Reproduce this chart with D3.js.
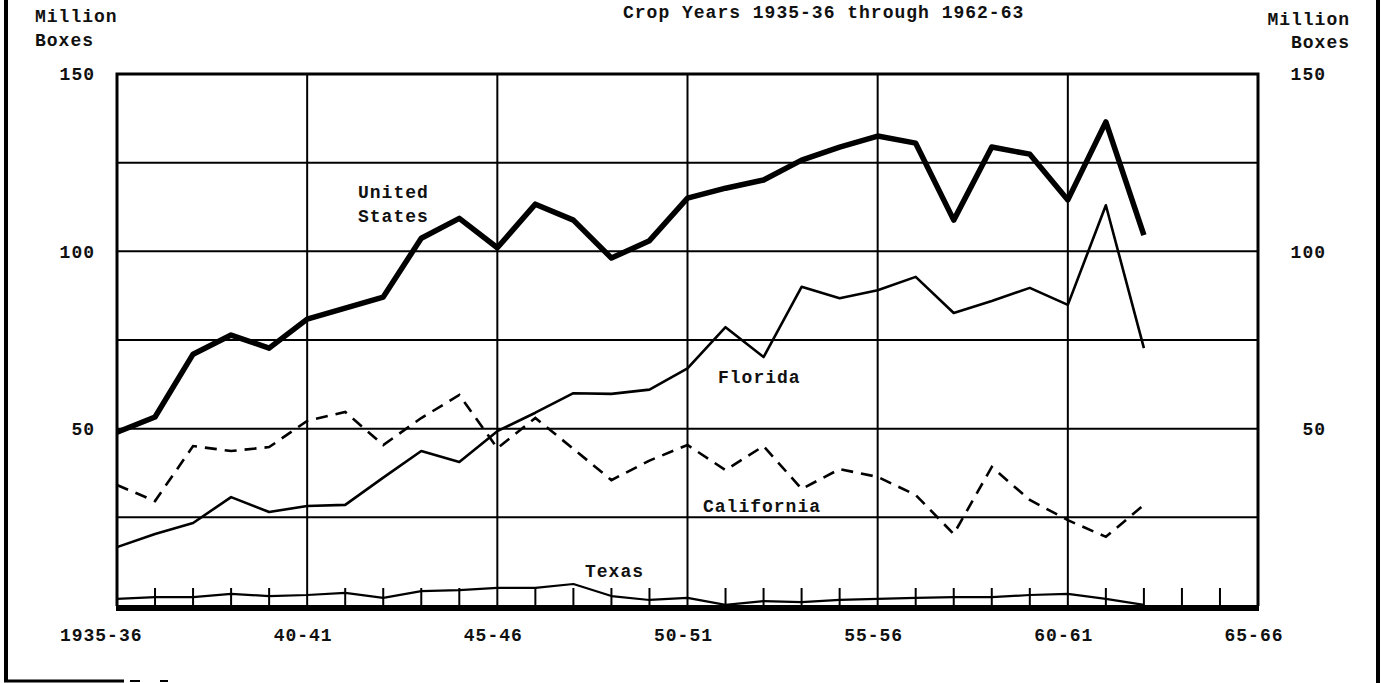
<!DOCTYPE html>
<html>
<head>
<meta charset="utf-8">
<script src="https://cdn.jsdelivr.net/npm/d3@7"></script>
<style>
  body { margin: 0; background: #fff; }
  text { font-family: "Liberation Mono", "Courier New", monospace; font-weight: bold; font-size: 18px; fill: #111; letter-spacing: 1px; }
</style>
</head>
<body>
<div id="vis1"></div>
<script>
const FRAME_HEIGHT = 683;
const FRAME_WIDTH = 1384;
const MARGINS = {left: 117, right: 126, top: 74, bottom: 77};

// crop years (first year of each season), 1935-36 through 1962-63
const years = [1935, 1936, 1937, 1938, 1939, 1940, 1941, 1942, 1943, 1944,
               1945, 1946, 1947, 1948, 1949, 1950, 1951, 1952, 1953, 1954,
               1955, 1956, 1957, 1958, 1959, 1960, 1961, 1962];

// million boxes
const unitedStates = [49, 53.3, 71, 76.4, 72.7, 80.9, 84, 87.1, 103.7, 109.3,
                      101, 113.3, 108.8, 98.1, 103, 115, 117.8, 120.1, 125.7, 129.4,
                      132.5, 130.5, 108.8, 129.4, 127.4, 114.5, 136.5, 104.6];
const florida = [16.6, 20.3, 23.4, 30.7, 26.5, 28.2, 28.5, 36.2, 43.7, 40.6,
                 49.3, 54.5, 60, 59.8, 61, 67, 78.6, 70.2, 90, 86.8,
                 89, 92.8, 82.6, 86, 89.7, 84.9, 113, 72.7];
const california = [34.1, 29.6, 45.1, 43.7, 44.8, 52.2, 54.7, 45.4, 53, 59.5,
                    44.5, 53, 44.3, 35.5, 41, 45.4, 38.3, 45.1, 33, 38.6,
                    36.4, 31.3, 20.3, 39.2, 29.9, 24.2, 19.5, 28.5];
const texas = [2, 2.5, 2.5, 3.4, 2.8, 3.1, 3.7, 2.3, 4.2, 4.5,
               5.1, 5.1, 6.2, 2.8, 1.7, 2.3, 0.3, 1.4, 1.1, 1.7,
               2, 2.3, 2.5, 2.5, 3.1, 3.4, 2, 0.3];

const xTickYears = [1935, 1940, 1945, 1950, 1955, 1960, 1965];
const xTickLabels = ['1935-36', '40-41', '45-46', '50-51', '55-56', '60-61', '65-66'];
const yTickValues = [50, 100, 150];
const yGridValues = [25, 50, 75, 100, 125];

const VIS_HEIGHT = FRAME_HEIGHT - MARGINS.top - MARGINS.bottom;
const VIS_WIDTH = FRAME_WIDTH - MARGINS.left - MARGINS.right;

const FRAME = d3.select('#vis1')
        .append('svg')
          .attr('height', FRAME_HEIGHT)
          .attr('width', FRAME_WIDTH)
          .attr('class', 'frame');

// scales
const X_SCALE = d3.scaleLinear()
          .domain([1935, 1965])
          .range([MARGINS.left, MARGINS.left + VIS_WIDTH]);
const Y_SCALE = d3.scaleLinear()
          .domain([0, 150])
          .range([MARGINS.top + VIS_HEIGHT, MARGINS.top]);

const LEFT = X_SCALE(1935), RIGHT = X_SCALE(1965);
const TOP = Y_SCALE(150), BOTTOM = Y_SCALE(0);

// page border (scanned sheet edge)
FRAME.append('line').attr('x1', 6).attr('x2', 6).attr('y1', 0).attr('y2', 681)
    .attr('stroke', '#000').attr('stroke-width', 4);
FRAME.append('line').attr('x1', 4).attr('x2', 124).attr('y1', 681).attr('y2', 681)
    .attr('stroke', '#000').attr('stroke-width', 3);
FRAME.append('line').attr('x1', 130).attr('x2', 140).attr('y1', 681).attr('y2', 681)
    .attr('stroke', '#000').attr('stroke-width', 2);
FRAME.append('line').attr('x1', 160).attr('x2', 168).attr('y1', 681).attr('y2', 681)
    .attr('stroke', '#000').attr('stroke-width', 2);
FRAME.append('line').attr('x1', 1378).attr('x2', 1378).attr('y1', 0).attr('y2', 683)
    .attr('stroke', '#000').attr('stroke-width', 4);

// grid
FRAME.selectAll('.hgrid')
    .data(yGridValues)
    .enter()
    .append('line')
      .attr('x1', LEFT).attr('x2', RIGHT)
      .attr('y1', (d) => Y_SCALE(d)).attr('y2', (d) => Y_SCALE(d))
      .attr('stroke', '#000').attr('stroke-width', 2);

FRAME.selectAll('.vgrid')
    .data(xTickYears.slice(1, -1))
    .enter()
    .append('line')
      .attr('x1', (d) => X_SCALE(d)).attr('x2', (d) => X_SCALE(d))
      .attr('y1', TOP).attr('y2', BOTTOM)
      .attr('stroke', '#000').attr('stroke-width', 2);

// small year ticks along the base
const tickYears = d3.range(1936, 1965).filter((d) => d % 5 !== 0);
FRAME.selectAll('.yeartick')
    .data(tickYears)
    .enter()
    .append('line')
      .attr('x1', (d) => X_SCALE(d)).attr('x2', (d) => X_SCALE(d))
      .attr('y1', BOTTOM - 18).attr('y2', BOTTOM)
      .attr('stroke', '#000').attr('stroke-width', 2);

// frame
FRAME.append('path')
    .attr('d', 'M' + LEFT + ',' + BOTTOM + 'V' + TOP + 'H' + RIGHT + 'V' + BOTTOM)
    .attr('fill', 'none').attr('stroke', '#000').attr('stroke-width', 3);
FRAME.append('line')
    .attr('x1', LEFT - 1).attr('x2', RIGHT + 1)
    .attr('y1', BOTTOM + 2).attr('y2', BOTTOM + 2)
    .attr('stroke', '#000').attr('stroke-width', 6);

// series
const line = d3.line()
    .x((d, i) => X_SCALE(years[i]))
    .y((d) => Y_SCALE(d));

FRAME.append('path').datum(texas)
    .attr('d', line).attr('fill', 'none')
    .attr('stroke', '#000').attr('stroke-width', 2.2).attr('stroke-linejoin', 'round');
FRAME.append('path').datum(california)
    .attr('d', line).attr('fill', 'none')
    .attr('stroke', '#000').attr('stroke-width', 2.6)
    .attr('stroke-dasharray', '12,8');
FRAME.append('path').datum(florida)
    .attr('d', line).attr('fill', 'none')
    .attr('stroke', '#000').attr('stroke-width', 2.6).attr('stroke-linejoin', 'round');
FRAME.append('path').datum(unitedStates)
    .attr('d', line).attr('fill', 'none')
    .attr('stroke', '#000').attr('stroke-width', 5.5).attr('stroke-linejoin', 'round');

// y axes, both sides
FRAME.append('g')
    .attr('transform', 'translate(' + 95 + ',0)')
    .call(d3.axisLeft(Y_SCALE).tickValues(yTickValues).tickSize(0).tickPadding(0))
    .call((g) => g.select('.domain').remove())
    .selectAll('text')
      .attr('font-size', null).attr('font-family', null);

FRAME.append('g')
    .attr('transform', 'translate(' + 1326 + ',0)')
    .call(d3.axisLeft(Y_SCALE).tickValues(yTickValues).tickSize(0).tickPadding(0))
    .call((g) => g.select('.domain').remove())
    .selectAll('text')
      .attr('font-size', null).attr('font-family', null);

// x axis labels
FRAME.append('g')
    .attr('transform', 'translate(25,' + 641 + ')')
    .call(d3.axisBottom(X_SCALE).tickValues(xTickYears)
            .tickFormat((d, i) => xTickLabels[i]).tickSize(0).tickPadding(0))
    .call((g) => g.select('.domain').remove())
    .selectAll('text')
      .attr('text-anchor', 'end').attr('dy', 0)
      .attr('font-size', null).attr('font-family', null);

// titles and unit labels
FRAME.append('text').attr('x', 623).attr('y', 18).text('Crop Years 1935-36 through 1962-63');
FRAME.append('text').attr('x', 35).attr('y', 22).text('Million');
FRAME.append('text').attr('x', 35).attr('y', 46).text('Boxes');
FRAME.append('text').attr('x', 1350).attr('y', 25).attr('text-anchor', 'end').text('Million');
FRAME.append('text').attr('x', 1350).attr('y', 48).attr('text-anchor', 'end').text('Boxes');

// series labels
FRAME.append('text').attr('x', 358).attr('y', 198).text('United');
FRAME.append('text').attr('x', 358).attr('y', 222).text('States');
FRAME.append('text').attr('x', 718).attr('y', 383).text('Florida');
FRAME.append('text').attr('x', 703).attr('y', 512).text('California');
FRAME.append('text').attr('x', 585).attr('y', 577).text('Texas');
</script>
</body>
</html>
